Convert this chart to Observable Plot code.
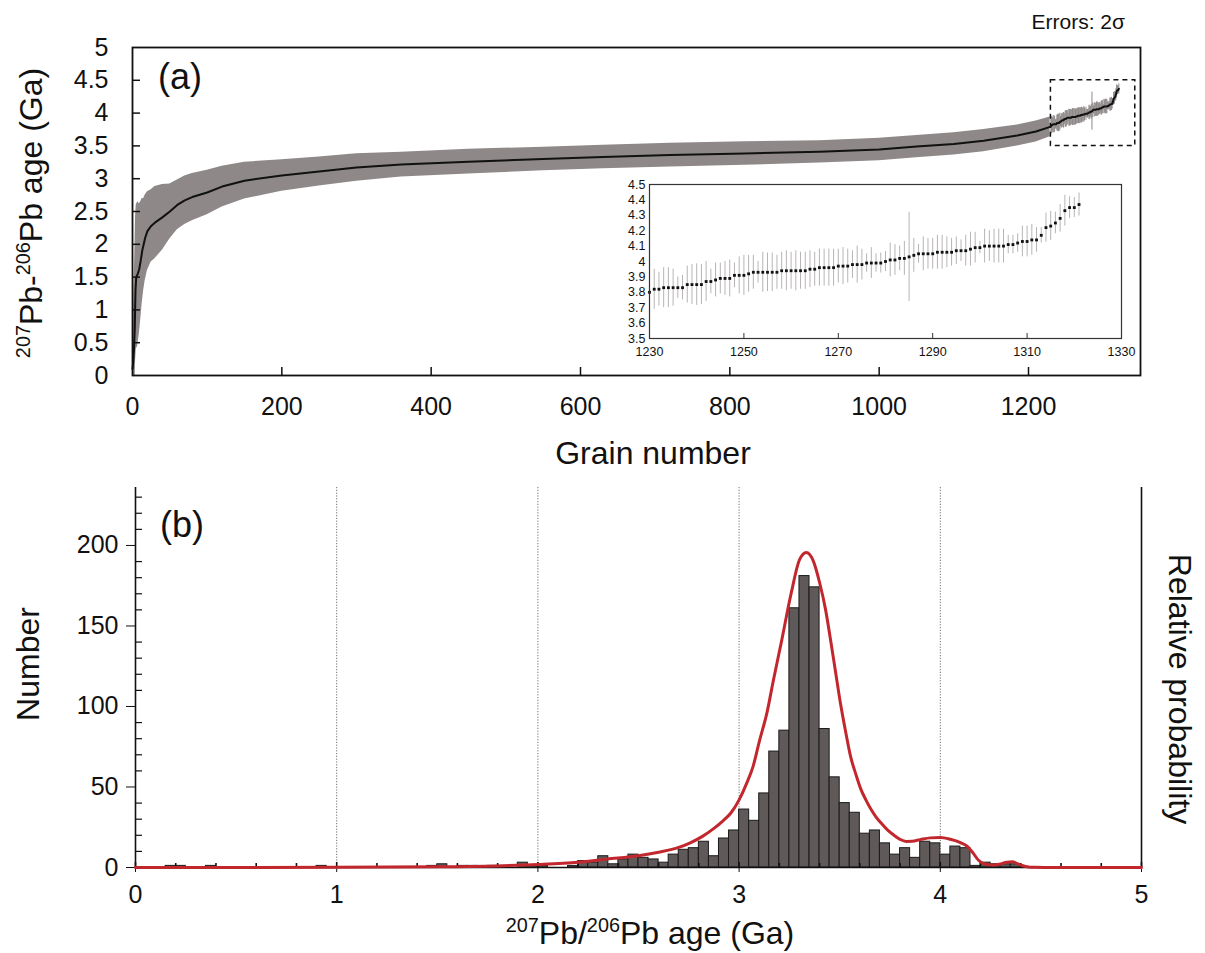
<!DOCTYPE html>
<html><head><meta charset="utf-8">
<script src="https://cdn.jsdelivr.net/npm/d3@7"></script>
<script src="https://cdn.jsdelivr.net/npm/@observablehq/plot@0.6"></script>
<style>
body{margin:0;background:#fff;}
#wrap{position:relative;width:1205px;height:953px;background:#fff;overflow:hidden;font-family:"Liberation Sans",Arial,sans-serif;color:#111;}
#wrap svg{position:absolute;}
.t{position:absolute;white-space:nowrap;line-height:1;}
.t sup{font-size:0.62em;vertical-align:0.6em;line-height:0;}
</style></head><body><div id="wrap"></div>
<script>
// ---------- Panel (a): sorted grain ages (checkpoints) ----------
const mainGrain = [0,1,2,3,4,5,7,9,11,13,15,17,20,25,30,40,50,60,70,80,100,120,150,200,250,300,360,450,550,630,720,820,920,1000,1050,1100,1140,1185,1210,1229];
const mainAge   = [0.10,0.20,0.40,0.70,1.30,1.50,1.55,1.62,1.75,1.90,2.00,2.10,2.20,2.28,2.33,2.41,2.50,2.60,2.67,2.72,2.79,2.88,2.97,3.05,3.11,3.17,3.215,3.26,3.30,3.33,3.36,3.385,3.41,3.445,3.49,3.53,3.58,3.66,3.72,3.79];
const mainErr   = [0.10,0.5,1.0,1.1,1.1,1.1,1.1,1.0,0.9,0.8,0.7,0.65,0.6,0.55,0.55,0.5,0.42,0.38,0.37,0.36,0.34,0.31,0.28,0.24,0.22,0.21,0.19,0.19,0.18,0.18,0.18,0.18,0.17,0.17,0.17,0.17,0.17,0.16,0.16,0.15];

// ---------- Inset: grains 1230–1321 ----------
const insetFirstGrain = 1230;
const insetAge = [3.80,3.82,3.82,3.83,3.83,3.83,3.83,3.83,3.85,3.85,3.85,3.85,3.87,3.87,3.88,3.89,3.89,3.89,3.91,3.91,
  3.91,3.92,3.93,3.93,3.93,3.93,3.93,3.93,3.94,3.94,3.94,3.94,3.94,3.94,3.95,3.95,3.96,3.96,3.96,3.96,
  3.97,3.97,3.97,3.98,3.98,3.98,3.99,3.99,3.99,3.99,4.00,4.01,4.01,4.02,4.02,4.03,4.04,4.05,4.05,4.05,
  4.05,4.06,4.06,4.06,4.06,4.07,4.07,4.07,4.08,4.09,4.09,4.10,4.10,4.10,4.10,4.10,4.11,4.11,4.12,4.13,
  4.13,4.14,4.14,4.17,4.22,4.23,4.25,4.28,4.33,4.35,4.35,4.37];
const insetErr = [0.12,0.13,0.11,0.13,0.13,0.12,0.07,0.08,0.12,0.13,0.135,0.13,0.13,0.08,0.11,0.10,0.11,0.12,0.08,0.12,
  0.13,0.12,0.11,0.07,0.13,0.125,0.125,0.11,0.12,0.13,0.12,0.13,0.12,0.12,0.12,0.11,0.12,0.12,0.12,0.12,
  0.11,0.12,0.11,0.09,0.12,0.10,0.06,0.10,0.06,0.065,0.065,0.11,0.10,0.08,0.11,0.29,0.11,0.06,0.11,0.10,
  0.10,0.11,0.11,0.10,0.09,0.09,0.07,0.10,0.11,0.10,0.04,0.11,0.10,0.11,0.11,0.11,0.06,0.06,0.06,0.10,
  0.10,0.10,0.08,0.05,0.095,0.095,0.07,0.09,0.10,0.07,0.065,0.075];

// ---------- Panel (b): histogram (bin lower edge, Ga) and counts ----------
const binWidth = 0.05;
const histLo = [0.15,0.20,0.35,0.90,1.45,1.50,1.60,1.65,1.75,1.80,1.90,1.95,2.00,
  2.15,2.20,2.25,2.30,2.35,2.40,2.45,2.50,2.55,2.60,2.65,2.70,2.75,2.80,2.85,2.90,2.95,
  3.00,3.05,3.10,3.15,3.20,3.25,3.30,3.35,3.40,3.45,3.50,3.55,3.60,3.65,3.70,3.75,3.80,3.85,3.90,3.95,
  4.00,4.05,4.10,4.15,4.20,4.25,4.30,4.35];
const histCount = [1,1,1,1,1,2,1,1,1,1,3,1,1,
  1,4,3,7,2,5,8,6,5,3,8,11,12,16,7,18,23,
  36,29,46,72,85,161,181,174,86,56,40,34,21,23,15,8,12,6,16,15,
  8,13,12,1,3,2,2,2];

// relative probability curve (in count-axis units)
const probAge = [0,1.0,1.5,1.8,2.0,2.2,2.344,2.5,2.6,2.7,2.76,2.82,2.87,2.92,2.96,3.0,3.04,3.07,3.10,3.14,3.17,3.21,3.26,3.30,3.334,3.37,3.40,3.43,3.455,3.48,3.505,3.53,3.554,3.58,3.604,3.63,3.654,3.68,3.71,3.74,3.77,3.80,3.83,3.86,3.90,3.95,4.0,4.05,4.10,4.13,4.16,4.19,4.22,4.26,4.30,4.33,4.36,4.39,4.43,4.47,4.52,5.0];
const probVal = [0,0.1,0.4,1.0,1.8,3.2,5.2,7.3,9.5,12.5,15.5,19.5,23.8,29,34,42,53,63,78,97,116,140,171,191,195.6,190,177,160,141,121,101,84,69,58,49,42,36.5,31.5,27,23,20,17.5,16.2,16.3,17.3,18.4,18.6,17.5,15.5,13.5,9.5,4.5,2.2,1.6,2.2,3.3,3.5,2.0,0.5,0.1,0,0];

// ---------- tick values ----------
const grainTicks = [0,200,400,600,800,1000,1200];
const ageTicksA = [0,0.5,1,1.5,2,2.5,3,3.5,4,4.5,5];
const insetXTicks = [1230,1250,1270,1290,1310,1330];
const insetYTicks = [3.5,3.6,3.7,3.8,3.9,4,4.1,4.2,4.3,4.4,4.5];
const ageTicksB = [0,1,2,3,4,5];
const ageMinorB = [0.2,0.4,0.6,0.8,1.2,1.4,1.6,1.8,2.2,2.4,2.6,2.8,3.2,3.4,3.6,3.8,4.2,4.4,4.6,4.8];
const countTicks = [0,50,100,150,200];
const countMinor = [10,20,30,40,60,70,80,90,110,120,130,140,160,170,180,190,210,220,230];
const gridAges = [1,2,3,4];
const zoomBox = [{x1:1230, x2:1343, y1:3.5, y2:4.5}];

// ---------- derived rows ----------
const mainRows = mainGrain.map((g,i)=>({g, age: mainAge[i], err: mainErr[i]}));
const insetRows = insetAge.map((a,i)=>({g: insetFirstGrain + i, age: a, err: insetErr[i]}));
const lineRows = mainRows.concat(insetRows);
const histRows = histLo.map((lo,i)=>({lo, hi: lo + binWidth, n: histCount[i]}));
const probRows = probAge.map((a,i)=>({a, v: probVal[i]}));

const FONT = '"Liberation Sans", Arial, sans-serif';
const bandColor = "#8e8888";
const wrap = document.getElementById("wrap");

// ---------- Panel (a) ----------
const aW = 1205, aH = 470, aML = 132, aMR = 65, aMT = 47, aMB = 95;
const aInnerW = aW - aML - aMR, aInnerH = aH - aMT - aMB;
const plotA = Plot.plot({
  width: aW, height: aH, marginLeft: aML, marginRight: aMR, marginTop: aMT, marginBottom: aMB,
  style: {fontFamily: FONT, fontSize: "25px", color: "#111", background: "none"},
  x: {domain: [0, 1350], ticks: grainTicks, tickSize: 0, tickPadding: 22, tickFormat: d => String(d), label: null},
  y: {domain: [0, 5], ticks: ageTicksA, tickSize: 0, tickPadding: 24, tickFormat: d => String(d), label: null},
  marks: [
    Plot.areaY(mainRows, {x: "g", y1: d => d.age - d.err, y2: d => d.age + d.err, fill: bandColor, clip: true}),
    Plot.ruleX(insetRows, {x: "g", y1: d => d.age - d.err, y2: d => d.age + d.err, stroke: bandColor, strokeWidth: 1}),
    Plot.line(lineRows, {x: "g", y: "age", stroke: "#111", strokeWidth: 2}),
    Plot.rect(zoomBox, {x1: "x1", x2: "x2", y1: "y1", y2: "y2", fill: "none", stroke: "#111", strokeWidth: 1.5, strokeDasharray: "5,4"}),
    Plot.ruleX(grainTicks.filter(d => d > 0), {stroke: "#111", strokeWidth: 1.5, insetTop: aInnerH - 8}),
    Plot.ruleY(ageTicksA.filter(d => d > 0 && d < 5), {stroke: "#111", strokeWidth: 1.5, insetRight: aInnerW - 8}),
    Plot.frame({stroke: "#111", strokeWidth: 1.8})
  ]
});
plotA.style.left = "0px"; plotA.style.top = "0px";
wrap.appendChild(plotA);

// ---------- Inset ----------
const iW = 550, iH = 200, iML = 49, iMR = 29, iMT = 14, iMB = 32;
const iInnerH = iH - iMT - iMB;
const plotI = Plot.plot({
  width: iW, height: iH, marginLeft: iML, marginRight: iMR, marginTop: iMT, marginBottom: iMB,
  style: {fontFamily: FONT, fontSize: "12.5px", color: "#111", background: "none"},
  x: {domain: [1230, 1330], ticks: insetXTicks, tickSize: 0, tickPadding: 9, tickFormat: d => String(d), label: null},
  y: {domain: [3.5, 4.5], ticks: insetYTicks, tickSize: 0, tickPadding: 4, tickFormat: d => String(d), label: null},
  marks: [
    Plot.ruleX(insetRows, {x: "g", y1: d => d.age - d.err, y2: d => d.age + d.err, stroke: "#b9b4b4", strokeWidth: 1}),
    Plot.dot(insetRows, {x: "g", y: "age", r: 1.6, symbol: "square", fill: "#111", stroke: "none"}),
    Plot.ruleX(insetXTicks.filter(d => d > 1230 && d < 1330), {stroke: "#333", strokeWidth: 1, insetTop: iInnerH - 5}),
    Plot.frame({stroke: "#333", strokeWidth: 1.2})
  ]
});
plotI.style.left = "600px"; plotI.style.top = "170px";
wrap.appendChild(plotI);

// ---------- Panel (b) ----------
const bW = 1205, bH = 483, bML = 135, bMR = 64, bMT = 17, bMB = 86;
const bInnerW = bW - bML - bMR, bInnerH = bH - bMT - bMB;
const plotB = Plot.plot({
  width: bW, height: bH, marginLeft: bML, marginRight: bMR, marginTop: bMT, marginBottom: bMB,
  style: {fontFamily: FONT, fontSize: "25px", color: "#111", background: "none"},
  x: {domain: [0, 5], ticks: ageTicksB, tickSize: 5, tickPadding: 13, tickFormat: d => String(d), label: null},
  y: {domain: [0, 236], ticks: countTicks, tickSize: 9, tickPadding: 8, tickFormat: d => String(d), label: null},
  marks: [
    Plot.ruleX(gridAges, {stroke: "#6f6f6f", strokeWidth: 1, strokeDasharray: "1.2,1.6"}),
    Plot.rectY(histRows, {x1: "lo", x2: "hi", y: "n", fill: "#5f5959", stroke: "#1b1b1b", strokeWidth: 1, inset: 0}),
    Plot.ruleX([0, 5], {stroke: "#111", strokeWidth: 1.6}),
    Plot.ruleY([0], {stroke: "#111", strokeWidth: 1.6}),
    Plot.ruleX(ageTicksB, {stroke: "#111", strokeWidth: 1.6, insetTop: bInnerH - 5}),
    Plot.ruleX(ageMinorB, {stroke: "#111", strokeWidth: 1.6, insetTop: bInnerH - 4}),
    Plot.ruleY(countMinor, {stroke: "#111", strokeWidth: 1.2, insetRight: bInnerW - 7}),
    Plot.line(probRows, {x: "a", y: "v", stroke: "#c1272d", strokeWidth: 3, curve: "monotone-x"})
  ]
});
plotB.style.left = "0px"; plotB.style.top = "470px";
wrap.appendChild(plotB);

// ---------- text labels ----------
function addText(html, css) {
  const d = document.createElement("div");
  d.className = "t";
  d.innerHTML = html;
  Object.assign(d.style, css);
  wrap.appendChild(d);
}
addText("(a)", {left: "158px", top: "77px", fontSize: "36px", transform: "translateY(-50%)"});
addText("(b)", {left: "160px", top: "525px", fontSize: "36px", transform: "translateY(-50%)"});
addText("Errors: 2σ", {left: "1125px", top: "21px", fontSize: "21px", transform: "translate(-100%,-50%)"});
addText("Grain number", {left: "653px", top: "453px", fontSize: "32px", transform: "translate(-50%,-50%)"});
addText("<sup>207</sup>Pb-<sup>206</sup>Pb age (Ga)", {left: "31px", top: "213px", fontSize: "32px", transform: "translate(-50%,-50%) rotate(-90deg)"});
addText("Number", {left: "28px", top: "664px", fontSize: "32px", transform: "translate(-50%,-50%) rotate(-90deg)"});
addText("Relative probability", {left: "1180px", top: "689px", fontSize: "32px", transform: "translate(-50%,-50%) rotate(90deg)"});
addText("<sup>207</sup>Pb/<sup>206</sup>Pb age (Ga)", {left: "650px", top: "933px", fontSize: "32px", transform: "translate(-50%,-50%)"});
</script></body></html>
